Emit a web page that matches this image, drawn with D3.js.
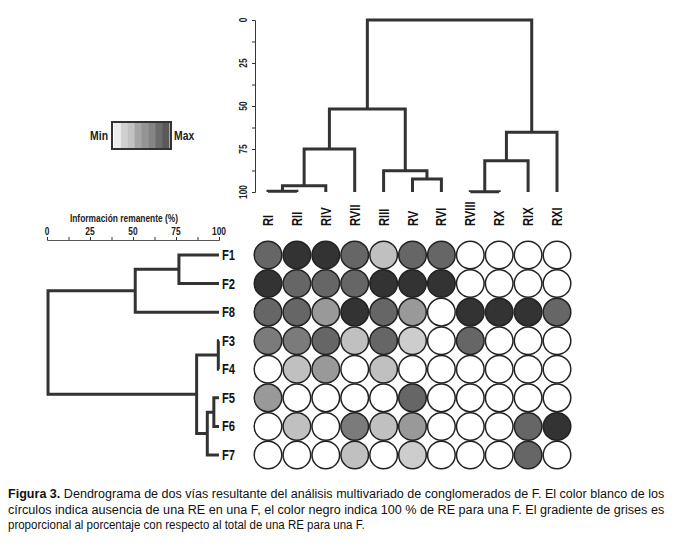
<!DOCTYPE html>
<html>
<head>
<meta charset="utf-8">
<script src="https://cdn.jsdelivr.net/npm/d3@7"></script>
<style>
  body { margin: 0; background: #fff; }
  text { font-family: "Liberation Sans Narrow", "Arial Narrow", "Liberation Sans", Arial, sans-serif; }
</style>
</head>
<body>
<script>
// columnas (RE) y filas (F) en el orden de las hojas
var columns = ["RI", "RII", "RIV", "RVII", "RIII", "RV", "RVI", "RVIII", "RX", "RIX", "RXI"];
var rows = ["F1", "F2", "F8", "F3", "F4", "F5", "F6", "F7"];

// uniones tipo hclust: negativo = hoja (1-based), positivo = union previa; tercer valor = informacion remanente
var colMerges = [
  [-1, -2, 99.5],
  [1, -3, 96.3],
  [2, -4, 75],
  [-6, -7, 92.5],
  [-5, 4, 87.6],
  [3, 5, 51.7],
  [-8, -9, 99.8],
  [7, -10, 81.8],
  [8, -11, 65.3],
  [6, 9, 0]
];
var rowMerges = [
  [-1, -2, 76.7],
  [1, -3, 51.3],
  [-4, -5, 99.6],
  [-6, -7, 97],
  [4, -8, 93.2],
  [3, 5, 87],
  [2, 6, 0.6]
];

// nivel de gris de cada circulo (0 = blanco ... 6 = negro), filas x columnas
var cells = [
  [5, 6, 6, 5, 2, 5, 5, 0, 0, 0, 0],
  [6, 5, 5, 5, 6, 6, 6, 0, 0, 0, 0],
  [5, 5, 3, 6, 5, 3, 0, 6, 6, 6, 5],
  [4, 4, 5, 2, 5, 1, 0, 5, 0, 0, 0],
  [0, 2, 3, 0, 2, 0, 0, 0, 0, 0, 0],
  [3, 0, 0, 0, 0, 5, 0, 0, 0, 0, 0],
  [0, 2, 0, 4, 2, 3, 0, 0, 0, 5, 6],
  [0, 0, 0, 2, 0, 1, 0, 0, 0, 5, 0]
];
var greys = ["#ffffff", "#cdcdcd", "#c0c0c0", "#999999", "#7b7b7b", "#666666", "#333333"];
var legendSteps = ["#ececec", "#d0d0d0", "#c2c2c2", "#a6a6a6", "#959595", "#858585", "#6c6c6c", "#5a5a5a"];
var axisTicks = [0, 25, 50, 75, 100];

var caption = [
  ["Figura 3.", " Dendrograma de dos vías resultante del análisis multivariado de conglomerados de F. El color blanco de los"],
  ["", "círculos indica ausencia de una RE en una F, el color negro indica 100 % de RE para una F. El gradiente de grises es"],
  ["", "proporcional al porcentaje con respecto al total de una RE para una F."]
];
var captionWidths = [657, 657, 357];

var svgWidth = 674, svgHeight = 554;
var svg = d3.select("body").append("svg")
  .attr("width", svgWidth)
  .attr("height", svgHeight);

var x = d3.scalePoint().domain(columns).range([268, 557]);
var y = d3.scalePoint().domain(rows).range([255, 455]);
var topH = d3.scaleLinear().domain([0, 100]).range([20, 192]);
var leftH = d3.scaleLinear().domain([0, 100]).range([47, 219]);

// posiciones de nodos del dendrograma
function layout(merges, leaves, pos) {
  var nodes = [];
  function get(i) {
    if (i < 0) return { p: pos(leaves[-i - 1]), h: 100 };
    return nodes[i - 1];
  }
  var segs = [];
  merges.forEach(function(m) {
    var a = get(m[0]), b = get(m[1]);
    nodes.push({ p: (a.p + b.p) / 2, h: m[2] });
    segs.push({ a: a, b: b, h: m[2] });
  });
  return segs;
}

var lineColor = "#333";
var narrow = " scale(0.8,1)";

// dendrograma superior
var colSegs = layout(colMerges, columns, x);
svg.append("g").selectAll("path")
  .data(colSegs)
  .enter().append("path")
  .attr("d", function(d) {
    return "M" + d.a.p + "," + topH(d.a.h) + "V" + topH(d.h) + "H" + d.b.p + "V" + topH(d.b.h);
  })
  .attr("fill", "none")
  .attr("stroke", lineColor)
  .attr("stroke-width", 3);

var yAxis = svg.append("g")
  .attr("transform", "translate(255,0)")
  .call(d3.axisLeft(topH).tickValues(d3.range(0, 101, 12.5)).tickSize(3).tickFormat(""));
yAxis.select(".domain").attr("stroke", "#4a2a50");
yAxis.selectAll(".tick line").attr("stroke", "#333");
svg.append("g").selectAll("text")
  .data(axisTicks)
  .enter().append("text")
  .attr("transform", function(d) { return "translate(247," + topH(d) + ") rotate(-90)" + narrow; })
  .attr("text-anchor", "middle")
  .attr("font-size", "10.5px")
  .attr("font-weight", "bold")
  .attr("fill", "#222")
  .text(function(d) { return d; });

svg.append("g").selectAll("text")
  .data(columns)
  .enter().append("text")
  .attr("transform", function(d) { return "translate(" + (x(d) + 5) + ",226) rotate(-90)" + narrow; })
  .attr("text-anchor", "start")
  .attr("font-size", "14px")
  .attr("font-weight", "bold")
  .attr("fill", "#111")
  .text(function(d) { return d; });

// dendrograma izquierdo
var rowSegs = layout(rowMerges, rows, y);
svg.append("g").selectAll("path")
  .data(rowSegs)
  .enter().append("path")
  .attr("d", function(d) {
    return "M" + leftH(d.a.h) + "," + d.a.p + "H" + leftH(d.h) + "V" + d.b.p + "H" + leftH(d.b.h);
  })
  .attr("fill", "none")
  .attr("stroke", lineColor)
  .attr("stroke-width", 3);

var xAxis = svg.append("g")
  .attr("transform", "translate(0,240)")
  .call(d3.axisTop(leftH).tickValues(d3.range(0, 101, 12.5)).tickSize(3).tickFormat(""));
xAxis.select(".domain").attr("stroke", "#555");
xAxis.selectAll(".tick line").attr("stroke", "#333");
svg.append("g").selectAll("text")
  .data(axisTicks)
  .enter().append("text")
  .attr("transform", function(d) { return "translate(" + leftH(d) + ",235)" + narrow; })
  .attr("text-anchor", "middle")
  .attr("font-size", "10.5px")
  .attr("font-weight", "bold")
  .attr("fill", "#222")
  .text(function(d) { return d; });
svg.append("text")
  .attr("transform", "translate(124,222)" + narrow)
  .attr("text-anchor", "middle")
  .attr("font-size", "10.5px")
  .attr("font-weight", "bold")
  .attr("fill", "#222")
  .text("Información remanente (%)");

svg.append("g").selectAll("text")
  .data(rows)
  .enter().append("text")
  .attr("transform", function(d) { return "translate(222," + (y(d) + 5) + ")" + narrow; })
  .attr("font-size", "14px")
  .attr("font-weight", "bold")
  .attr("fill", "#111")
  .text(function(d) { return d; });

// circulos
var grid = svg.append("g");
cells.forEach(function(row, i) {
  grid.selectAll(".r" + i)
    .data(row)
    .enter().append("circle")
    .attr("class", "r" + i)
    .attr("cx", function(d, j) { return x(columns[j]); })
    .attr("cy", y(rows[i]))
    .attr("r", 13.8)
    .attr("fill", function(d) { return greys[d]; })
    .attr("stroke", "#222")
    .attr("stroke-width", 1.5);
});

// leyenda
var lx = d3.scaleBand().domain(d3.range(legendSteps.length)).range([114, 169]);
var legend = svg.append("g");
legend.selectAll("rect")
  .data(legendSteps)
  .enter().append("rect")
  .attr("x", function(d, i) { return lx(i); })
  .attr("y", 123)
  .attr("width", lx.bandwidth() + 0.5)
  .attr("height", 25)
  .attr("fill", function(d) { return d; });
legend.append("rect")
  .attr("x", 112).attr("y", 122).attr("width", 59).attr("height", 27)
  .attr("fill", "none").attr("stroke", "#333").attr("stroke-width", 2);
legend.append("text")
  .attr("transform", "translate(108,140)" + narrow)
  .attr("text-anchor", "end")
  .attr("font-size", "13px").attr("font-weight", "bold").attr("fill", "#222")
  .text("Min");
legend.append("text")
  .attr("transform", "translate(174,140)" + narrow)
  .attr("font-size", "13px").attr("font-weight", "bold").attr("fill", "#222")
  .text("Max");

// pie de figura: cada linea se comprime en horizontal hasta su ancho
var cap = svg.append("g");
caption.forEach(function(line, i) {
  var t = cap.append("text")
    .attr("font-size", "13.5px")
    .attr("fill", "#111");
  if (line[0]) t.append("tspan").attr("font-weight", "bold").text(line[0]);
  t.append("tspan").text(line[1]);
  var k = captionWidths[i] / t.node().getComputedTextLength();
  t.attr("transform", "translate(8," + (498 + i * 15.5) + ") scale(" + k + ",1)");
});
</script>
</body>
</html>
